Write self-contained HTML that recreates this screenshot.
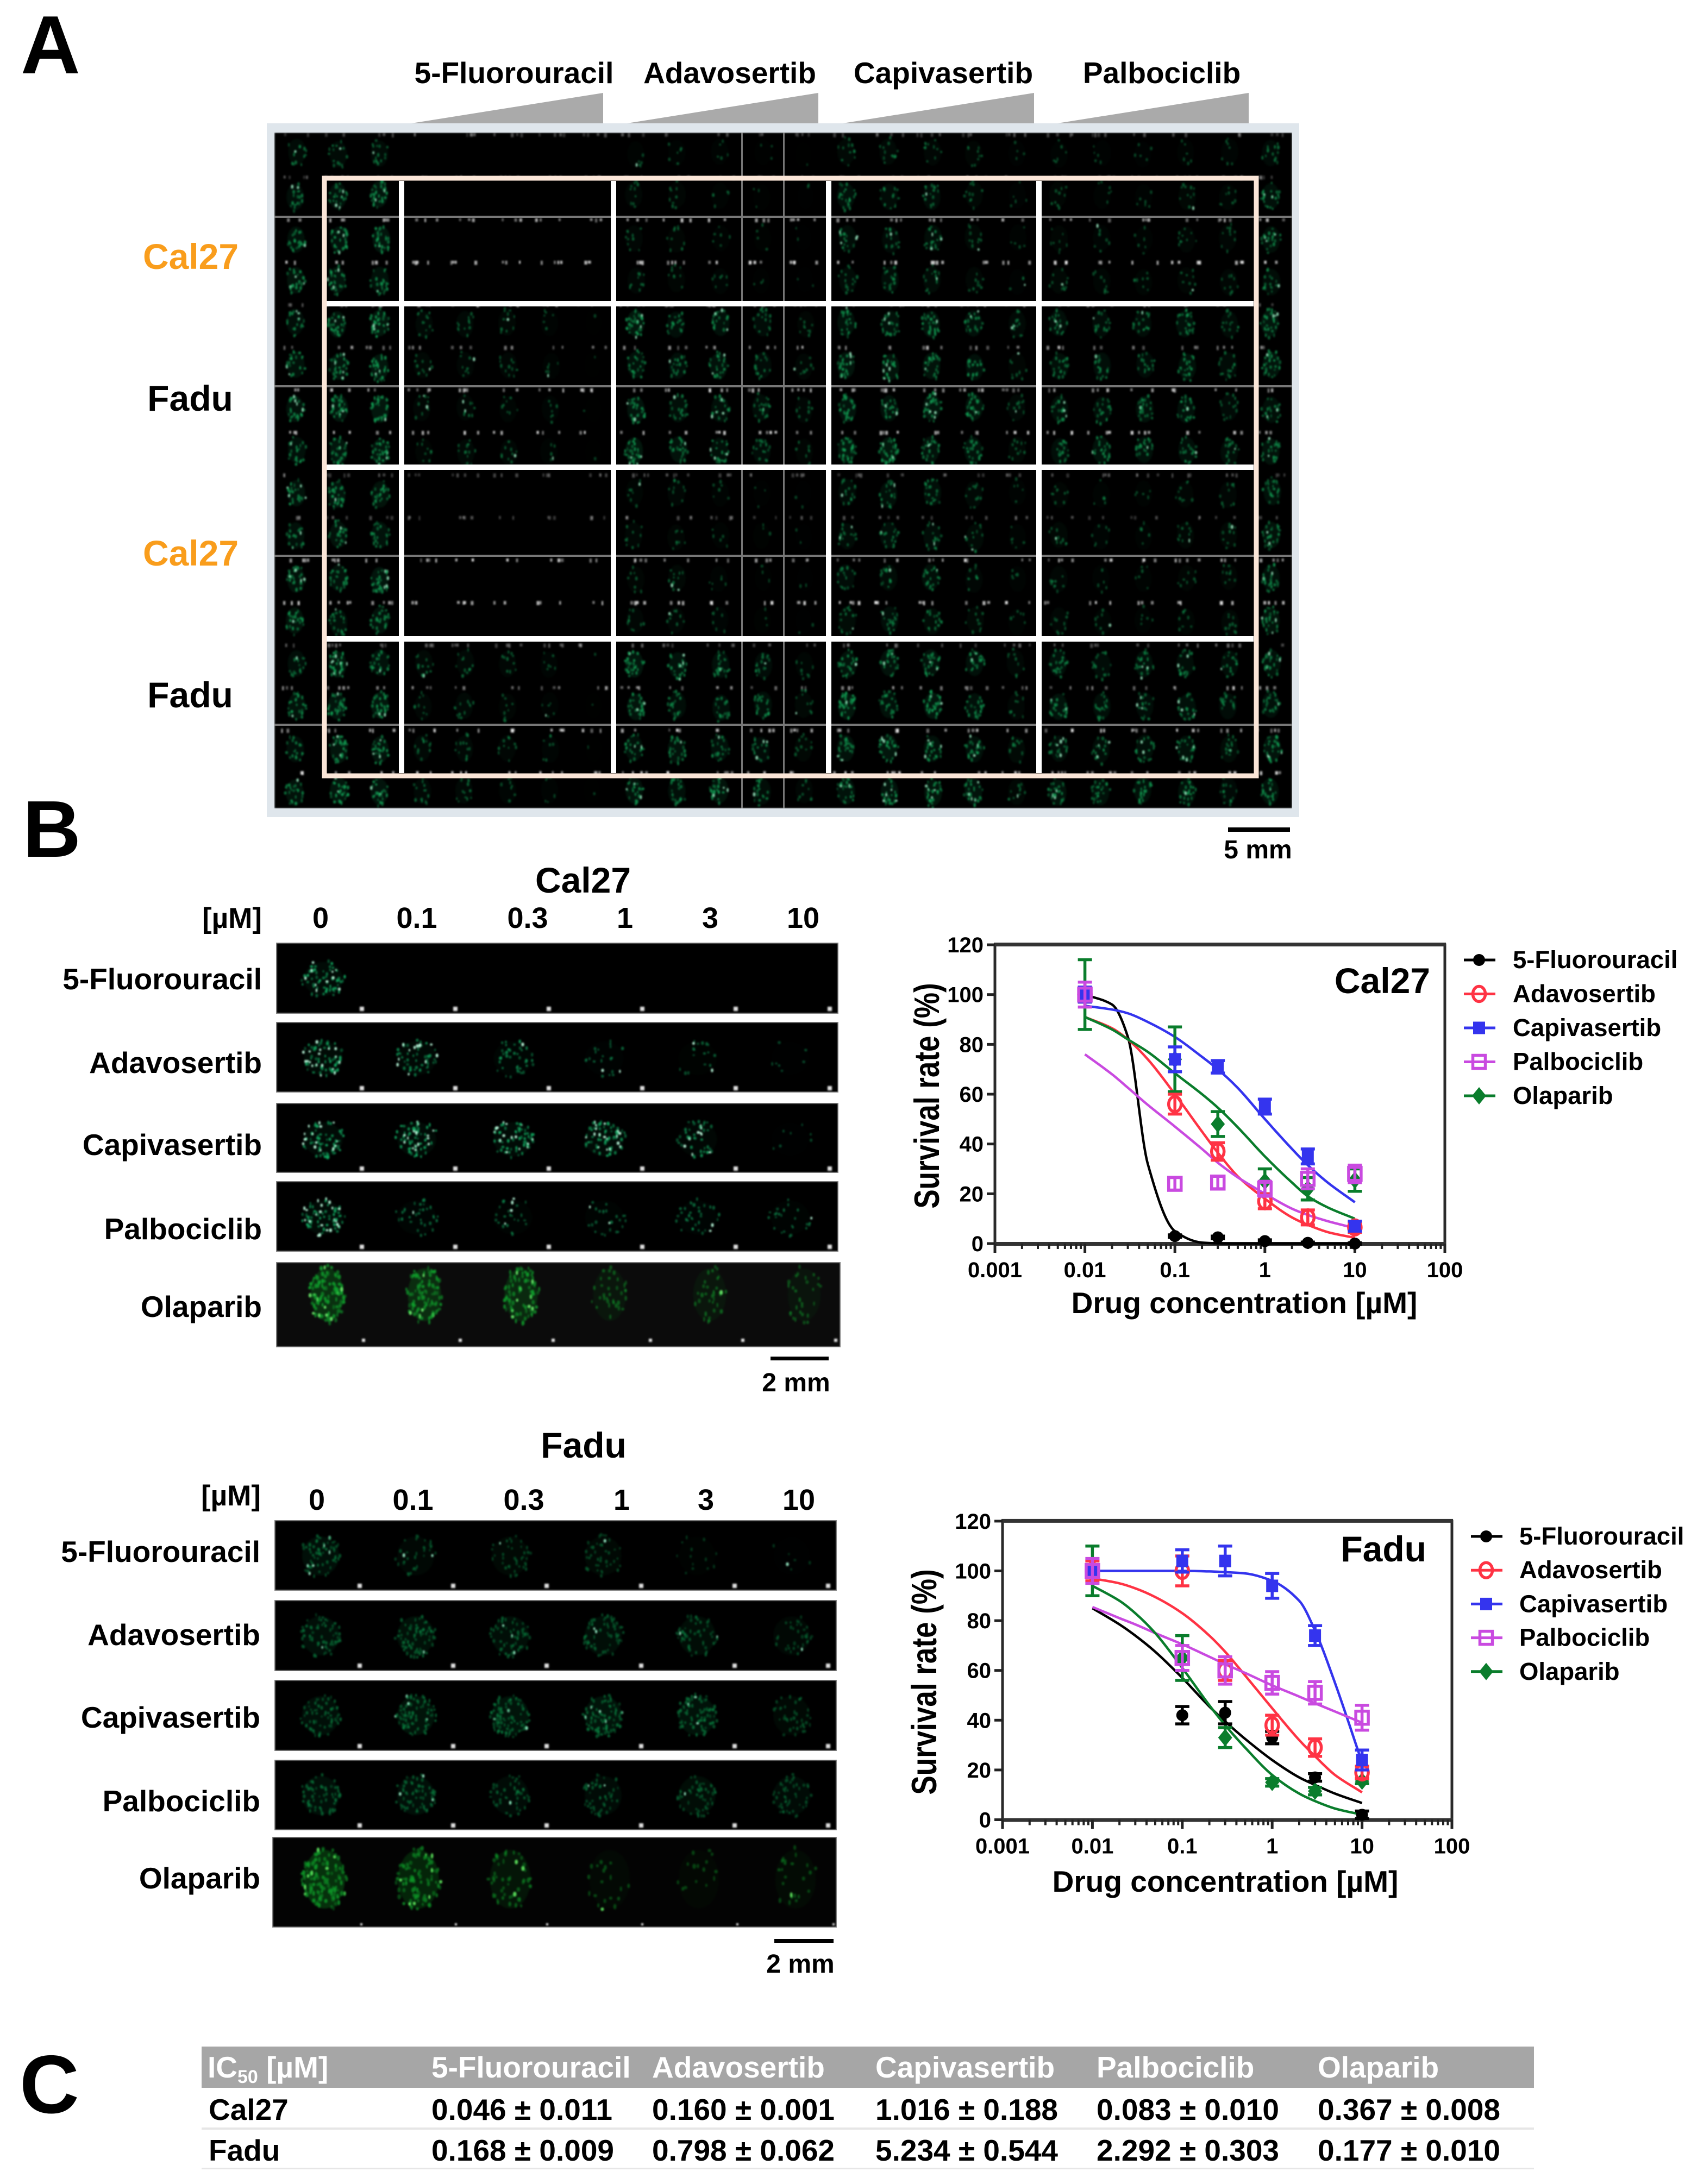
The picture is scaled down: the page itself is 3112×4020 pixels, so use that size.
<!DOCTYPE html>
<html lang="en">
<head>
<meta charset="utf-8">
<title>Drug screening figure</title>
<style>
html,body{margin:0;padding:0;background:#fff;}
#page{position:relative;width:3112px;height:4020px;overflow:hidden;background:#fff;}
canvas{position:absolute;display:block;}
#overlay{position:absolute;left:0;top:0;}
text{font-family:"Liberation Sans",sans-serif;font-weight:bold;fill:#000;}
</style>
</head>
<body>
<div id="page">
  <div style="position:absolute;left:491px;top:227px;width:1900px;height:1277px;background:#dfe6ec"></div>
  <canvas id="plate" width="1873" height="1244" style="left:505px;top:244px"></canvas>

  <canvas id="c0" width="1035" height="131" style="left:508px;top:1735px"></canvas>
  <canvas id="c1" width="1035" height="130" style="left:508px;top:1881px"></canvas>
  <canvas id="c2" width="1035" height="129" style="left:508px;top:2030px"></canvas>
  <canvas id="c3" width="1035" height="130" style="left:508px;top:2174px"></canvas>
  <canvas id="c4" width="1039" height="157" style="left:508px;top:2323px"></canvas>

  <canvas id="f0" width="1035" height="130" style="left:505px;top:2798px"></canvas>
  <canvas id="f1" width="1035" height="131" style="left:505px;top:2945px"></canvas>
  <canvas id="f2" width="1035" height="131" style="left:505px;top:3092px"></canvas>
  <canvas id="f3" width="1035" height="130" style="left:505px;top:3239px"></canvas>
  <canvas id="f4" width="1039" height="167" style="left:501px;top:3381px"></canvas>

  <svg id="overlay" xmlns="http://www.w3.org/2000/svg" width="3112" height="4020" viewBox="0 0 3112 4020">
    <!-- Panel A -->
    <text x="38" y="135" font-size="152">A</text>
    <polygon points="757,227 1110,171 1110,227" fill="#aaaaaa"/>
    <polygon points="1154,227 1506,171 1506,227" fill="#aaaaaa"/>
    <polygon points="1551,227 1903,171 1903,227" fill="#aaaaaa"/>
    <polygon points="1946,227 2298,171 2298,227" fill="#aaaaaa"/>
    <text x="946" y="153" font-size="55" text-anchor="middle">5-Fluorouracil</text>
    <text x="1343" y="153" font-size="55" text-anchor="middle">Adavosertib</text>
    <text x="1736" y="153" font-size="55" text-anchor="middle">Capivasertib</text>
    <text x="2138" y="153" font-size="55" text-anchor="middle">Palbociclib</text>
    <text x="351" y="495" font-size="66" text-anchor="middle" style="fill:#f99d1c">Cal27</text>
    <text x="350" y="756" font-size="66" text-anchor="middle">Fadu</text>
    <text x="351" y="1041" font-size="66" text-anchor="middle" style="fill:#f99d1c">Cal27</text>
    <text x="350" y="1302" font-size="66" text-anchor="middle">Fadu</text>

    <g fill="#777777">
      <rect x="505" y="397" width="1873" height="4"/>
      <rect x="505" y="709" width="1873" height="4"/>
      <rect x="505" y="1021" width="1873" height="4"/>
      <rect x="505" y="1332" width="1873" height="4"/>
      <rect x="1364" y="244" width="3" height="1244"/>
      <rect x="1441" y="244" width="3" height="1244"/>
    </g>
    <g fill="#ffffff">
      <rect x="601" y="554" width="1706" height="10"/>
      <rect x="601" y="855" width="1706" height="10"/>
      <rect x="601" y="1171" width="1706" height="10"/>
      <rect x="734" y="333" width="10" height="1090"/>
      <rect x="1124" y="333" width="10" height="1090"/>
      <rect x="1520" y="333" width="10" height="1090"/>
      <rect x="1907" y="333" width="10" height="1090"/>
    </g>
    <rect x="597" y="328" width="1715" height="1100" fill="none" stroke="#fbe6d8" stroke-width="9"/>
    <rect x="2260" y="1523" width="114" height="8" fill="#000"/>
    <text x="2315" y="1580" font-size="48" text-anchor="middle">5 mm</text>

    <!-- Panel B -->
    <text x="42" y="1577" font-size="148">B</text>
    <text x="1073" y="1643" font-size="66" text-anchor="middle">Cal27</text>
    <text x="482" y="1708" font-size="53" text-anchor="end">[µM]</text>
    <text x="590" y="1708" font-size="54" text-anchor="middle">0</text>
    <text x="767" y="1708" font-size="54" text-anchor="middle">0.1</text>
    <text x="971" y="1708" font-size="54" text-anchor="middle">0.3</text>
    <text x="1150" y="1708" font-size="54" text-anchor="middle">1</text>
    <text x="1307" y="1708" font-size="54" text-anchor="middle">3</text>
    <text x="1478" y="1708" font-size="54" text-anchor="middle">10</text>
    <text x="482" y="1821" font-size="55" text-anchor="end">5-Fluorouracil</text>
    <text x="482" y="1975" font-size="55" text-anchor="end">Adavosertib</text>
    <text x="482" y="2126" font-size="55" text-anchor="end">Capivasertib</text>
    <text x="482" y="2281" font-size="55" text-anchor="end">Palbociclib</text>
    <text x="482" y="2424" font-size="55" text-anchor="end">Olaparib</text>
    <rect x="1418" y="2497" width="107" height="7" fill="#000"/>
    <text x="1465" y="2561" font-size="48" text-anchor="middle">2 mm</text>

    <text x="1074" y="2683" font-size="66" text-anchor="middle">Fadu</text>
    <text x="480" y="2771" font-size="53" text-anchor="end">[µM]</text>
    <text x="583" y="2779" font-size="54" text-anchor="middle">0</text>
    <text x="760" y="2779" font-size="54" text-anchor="middle">0.1</text>
    <text x="964" y="2779" font-size="54" text-anchor="middle">0.3</text>
    <text x="1144" y="2779" font-size="54" text-anchor="middle">1</text>
    <text x="1299" y="2779" font-size="54" text-anchor="middle">3</text>
    <text x="1470" y="2779" font-size="54" text-anchor="middle">10</text>
    <text x="479" y="2875" font-size="55" text-anchor="end">5-Fluorouracil</text>
    <text x="479" y="3028" font-size="55" text-anchor="end">Adavosertib</text>
    <text x="479" y="3180" font-size="55" text-anchor="end">Capivasertib</text>
    <text x="479" y="3334" font-size="55" text-anchor="end">Palbociclib</text>
    <text x="479" y="3476" font-size="55" text-anchor="end">Olaparib</text>
    <rect x="1425" y="3569" width="109" height="7" fill="#000"/>
    <text x="1473" y="3631" font-size="48" text-anchor="middle">2 mm</text>

    <g id="chart-cal27"></g>
    <g id="chart-fadu"></g>

    <!-- Panel C -->
    <text x="36" y="3889" font-size="152">C</text>
    <g>
      <rect x="371" y="3767" width="2452" height="76" fill="#a6a6a6"/>
      <rect x="371" y="3916" width="2452" height="4" fill="#e6e6e6"/>
      <rect x="371" y="3990" width="2452" height="3" fill="#e6e6e6"/>
      <text x="382" y="3824" font-size="55" style="fill:#fff">IC<tspan font-size="34" dy="10">50</tspan><tspan dy="-10"> [µM]</tspan></text>
      <text x="794" y="3824" font-size="55" style="fill:#fff">5-Fluorouracil</text>
      <text x="1200" y="3824" font-size="55" style="fill:#fff">Adavosertib</text>
      <text x="1611" y="3824" font-size="55" style="fill:#fff">Capivasertib</text>
      <text x="2018" y="3824" font-size="55" style="fill:#fff">Palbociclib</text>
      <text x="2425" y="3824" font-size="55" style="fill:#fff">Olaparib</text>
      <text x="384" y="3902" font-size="55">Cal27</text>
      <text x="794" y="3902" font-size="55">0.046 ± 0.011</text>
      <text x="1200" y="3902" font-size="55">0.160 ± 0.001</text>
      <text x="1611" y="3902" font-size="55">1.016 ± 0.188</text>
      <text x="2018" y="3902" font-size="55">0.083 ± 0.010</text>
      <text x="2425" y="3902" font-size="55">0.367 ± 0.008</text>
      <text x="384" y="3977" font-size="55">Fadu</text>
      <text x="794" y="3977" font-size="55">0.168 ± 0.009</text>
      <text x="1200" y="3977" font-size="55">0.798 ± 0.062</text>
      <text x="1611" y="3977" font-size="55">5.234 ± 0.544</text>
      <text x="2018" y="3977" font-size="55">2.292 ± 0.303</text>
      <text x="2425" y="3977" font-size="55">0.177 ± 0.010</text>
    </g>
  </svg>
</div>

<script>
// ---------- Chart data ----------
const xTickValues = [0.001, 0.01, 0.1, 1, 10, 100];
const xTickLabels = ['0.001', '0.01', '0.1', '1', '10', '100'];
const yTickValues = [0, 20, 40, 60, 80, 100, 120];
const yTickLabels = ['0', '20', '40', '60', '80', '100', '120'];
const seriesNames = ['5-Fluorouracil', 'Adavosertib', 'Capivasertib', 'Palbociclib', 'Olaparib'];
const pointConc = [0.01, 0.1, 0.3, 1, 3, 10];
const curveConc = [0.01, 0.02, 0.03, 0.05, 0.1, 0.2, 0.3, 0.5, 1, 2, 3, 5, 10];

const cal27FluPoints = [100, 3, 2.5, 1, 0.3, 0];
const cal27FluErr = [1, 0.5, 0.5, 0.5, 0.3, 0.3];
const cal27FluCurve = [100, 96, 83, 32, 5, 0.4, 0.1, 0, 0, 0, 0, 0, 0];
const cal27AdaPoints = [100, 56, 37, 17, 10.5, 6.5];
const cal27AdaErr = [3, 4, 3.5, 3, 3, 2];
const cal27AdaCurve = [91, 86.5, 82, 74, 60, 45, 36.5, 27, 18, 10.5, 7.5, 4.6, 2.3];
const cal27CapPoints = [100, 74, 71, 55, 35, 7];
const cal27CapErr = [3, 5, 2.5, 3, 3, 2];
const cal27CapCurve = [95.5, 94, 92.5, 89, 83, 75, 70, 62.5, 50, 38, 31.5, 24.5, 16.6];
const cal27PalPoints = [100, 24, 24.5, 22, 26, 28];
const cal27PalErr = [5, 2.5, 2.5, 3, 4, 3.5];
const cal27PalCurve = [76, 68, 62.6, 55.7, 47, 38, 32.5, 26.6, 20, 14, 11.5, 9, 6.2];
const cal27OlaPoints = [100, 74, 48, 25, 22, 25.5];
const cal27OlaErr = [14, 13, 5, 5, 4.5, 4.5];
const cal27OlaCurve = [91, 86, 82, 77, 68.4, 60, 54.6, 46.7, 35, 24.5, 19, 14.5, 10];

const faduFluPoints = [100, 42, 43, 33, 17, 2];
const faduFluErr = [2, 3.5, 4.5, 2.5, 1.5, 1.5];
const faduFluCurve = [85, 78.5, 74, 67.5, 57, 45.5, 39.5, 32.5, 24, 17, 14, 10.5, 6.7];
const faduAdaPoints = [100, 100, 60, 38, 29, 19];
const faduAdaErr = [4, 6, 4, 4, 3.5, 2.5];
const faduAdaCurve = [97, 95, 93, 89.5, 83, 74, 67.5, 58, 44.8, 32, 25.5, 18, 11];
const faduCapPoints = [100, 104, 104, 94, 74, 24];
const faduCapErr = [2, 4.5, 6, 5, 4, 4];
const faduCapCurve = [100, 100, 100, 100, 100, 99.8, 99.5, 99, 96, 88, 76, 55, 23];
const faduPalPoints = [100, 65, 60, 55, 51, 41];
const faduPalErr = [5, 5, 5.5, 4.5, 4.5, 5];
const faduPalCurve = [85.5, 81, 78.5, 75, 70.5, 65.5, 62.5, 59, 54, 49.5, 46.8, 43.5, 39];
const faduOlaPoints = [100, 65, 33, 15, 11.5, 15.5];
const faduOlaErr = [10, 9, 4, 1.5, 1.5, 1];
const faduOlaCurve = [94, 88, 83, 75, 61, 46, 38, 29, 18, 10.5, 7.5, 4.5, 2];

// ---------- Micrograph brightness ----------
const plateCal27Row = [.7,.8,.8,0,0,0,0,0,.3,.3,.2,.1,.06,.6,.55,.55,.35,.15,.3,.2,.2,.3,.3,.7];
const plateFaduRow = [.7,.95,.95,.35,.35,.3,.2,.03,.9,.7,.7,.6,.3,.9,.85,.85,.8,.35,.65,.65,.65,.65,.5,.8];
const plateRowKinds = ['c','c','c','c','f','f','f','f','c','c','c','c','f','f','f','f'];
const cal27Strips = [[1,0,0,0,0,0],[1,.8,.6,.3,.25,.1],[1,1,1,1,.7,.1],[1,.45,.35,.35,.5,.35],[1,.9,.8,.3,.3,.25]];
const faduStrips = [[.6,.3,.35,.35,.12,.05],[.6,.65,.55,.55,.5,.3],[.6,.75,.8,.8,.7,.35],[.6,.6,.45,.45,.5,.45],[1,.75,.4,.15,.12,.18]];

// ---------- Layout ----------
const SVGNS = 'http://www.w3.org/2000/svg';
const seriesColors = ['#000000', '#ff3344', '#3434ee', '#c94ae0', '#0a7d2c'];
const seriesMarkers = ['circle', 'ring', 'square', 'box', 'diamond'];

function mk(tag, parent, attrs, txt) {
  const e = document.createElementNS(SVGNS, tag);
  for (const k in attrs) e.setAttribute(k, attrs[k]);
  if (txt !== undefined) e.textContent = txt;
  parent.appendChild(e);
  return e;
}

function curvePath(px, py) {
  const n = px.length, d = [], m = [];
  for (let i = 0; i < n - 1; i++) d.push((py[i + 1] - py[i]) / (px[i + 1] - px[i]));
  m.push(d[0]);
  for (let i = 1; i < n - 1; i++) m.push(d[i - 1] * d[i] <= 0 ? 0 : 2 * d[i - 1] * d[i] / (d[i - 1] + d[i]));
  m.push(d[n - 2]);
  let s = 'M' + px[0].toFixed(1) + ' ' + py[0].toFixed(1);
  for (let i = 0; i < n - 1; i++) {
    const h = (px[i + 1] - px[i]) / 3;
    s += 'C' + (px[i] + h).toFixed(1) + ' ' + (py[i] + m[i] * h).toFixed(1) + ' ' +
      (px[i + 1] - h).toFixed(1) + ' ' + (py[i + 1] - m[i + 1] * h).toFixed(1) + ' ' +
      px[i + 1].toFixed(1) + ' ' + py[i + 1].toFixed(1);
  }
  return s;
}

function drawMarker(parent, kind, cx, cy, color) {
  let m;
  if (kind === 'circle') m = mk('ellipse', parent, {cx: cx, cy: cy, rx: 11, ry: 11, fill: color});
  if (kind === 'ring') m = mk('ellipse', parent, {cx: cx, cy: cy, rx: 11.5, ry: 14, fill: 'none', stroke: color, 'stroke-width': 5.5});
  if (kind === 'square') m = mk('rect', parent, {x: cx - 11, y: cy - 11.5, width: 22, height: 23, fill: color});
  if (kind === 'box') m = mk('rect', parent, {x: cx - 11.5, y: cy - 12, width: 23, height: 24, fill: 'none', stroke: color, 'stroke-width': 5.5});
  if (kind === 'diamond') m = mk('polygon', parent, {points: (cx) + ',' + (cy - 16) + ' ' + (cx + 13) + ',' + cy + ' ' + (cx) + ',' + (cy + 16) + ' ' + (cx - 13) + ',' + cy, fill: color});
  
  
}

function renderChart(root, L, title, series) {
  const xPos = c => L.x0 + (Math.log10(c) + 3) * L.decade;
  const yPos = v => L.y0 - v * L.unit;

  const frame = mk('rect', root, {x: L.x0, y: yPos(120), width: 5 * L.decade, height: 120 * L.unit, fill: 'none', stroke: '#2a2a2a', 'stroke-width': 5});
  
  
  const topAxis = mk('rect', root, {x: L.x0 - 2, y: yPos(120) - 4, width: 5 * L.decade + 4, height: 7, fill: '#333'});
  
  
  const xAxis = mk('rect', root, {x: L.x0 - 2, y: L.y0 - 3, width: 5 * L.decade + 4, height: 7, fill: '#333'});
  
  

  yTickValues.forEach((v, i) => {
    const t = mk('line', root, {x1: L.x0 - 15, x2: L.x0, y1: yPos(v), y2: yPos(v), stroke: '#222', 'stroke-width': 5});
    
    
    const lab = mk('text', root, {x: L.x0 - 21, y: yPos(v) + 14, 'font-size': 40, 'text-anchor': 'end'}, yTickLabels[i]);
    
    
  });
  xTickValues.forEach((v, i) => {
    const t = mk('line', root, {x1: xPos(v), x2: xPos(v), y1: L.y0, y2: L.y0 + 17, stroke: '#222', 'stroke-width': 5});
    
    
    const lab = mk('text', root, {x: xPos(v), y: L.y0 + 62, 'font-size': 40, 'text-anchor': 'middle'}, xTickLabels[i]);
    
    
    if (i < xTickValues.length - 1) {
      for (let k = 2; k < 10; k++) {
        const mt = mk('line', root, {x1: xPos(v * k), x2: xPos(v * k), y1: L.y0, y2: L.y0 + 10, stroke: '#222', 'stroke-width': 4});
        
        
      }
    }
  });

  const yt = mk('text', root, {x: 0, y: 0, 'font-size': 53, 'text-anchor': 'middle', transform: 'translate(' + L.yTitleX + ' ' + L.yTitleY + ') rotate(-90) scale(1 1.22)'}, 'Survival rate (%)');
  
  
  const xt = mk('text', root, {x: L.xTitleX, y: L.xTitleY, 'font-size': 55, 'text-anchor': 'middle'}, 'Drug concentration [µM]');
  
  
  const ct = mk('text', root, {x: L.titleX, y: L.titleY, 'font-size': 66, 'text-anchor': 'end'}, title);
  
  

  // Curves
  series.forEach((s, i) => {
    const p = mk('path', root, {d: curvePath(curveConc.map(xPos), s.curve.map(yPos)), fill: 'none', stroke: seriesColors[i], 'stroke-width': 4.5});
    
    
  });

  // Points with error bars; olaparib first so the others sit over it
  [4, 0, 1, 2, 3].forEach(i => {
    const s = series[i];
    s.points.forEach((v, j) => {
      const cx = xPos(pointConc[j]);
      const top = yPos(v + s.err[j]);
      const bottom = yPos(v - s.err[j]);
      const bar = mk('path', root, {d: 'M' + (cx - 13) + ' ' + top + 'H' + (cx + 13) + 'M' + cx + ' ' + top + 'V' + bottom + 'M' + (cx - 13) + ' ' + bottom + 'H' + (cx + 13), fill: 'none', stroke: seriesColors[i], 'stroke-width': 5.5});
      
      
      drawMarker(root, seriesMarkers[i], cx, yPos(v), seriesColors[i]);
    });
  });

  // Legend
  seriesNames.forEach((name, i) => {
    const ly = L.legendY + i * L.legendStep;
    const ln = mk('line', root, {x1: L.legendX, x2: L.legendX + 58, y1: ly, y2: ly, stroke: seriesColors[i], 'stroke-width': 5});
    
    
    drawMarker(root, seriesMarkers[i], L.legendX + 28, ly, seriesColors[i]);
    const lt = mk('text', root, {x: L.legendTextX, y: ly + 15, 'font-size': 45.5}, name);
    
    
  });
}

renderChart(document.getElementById('chart-cal27'),
  {x0: 1831, decade: 165.6, y0: 2289, unit: 4.583, yTitleX: 1728, yTitleY: 2017, xTitleX: 2290, xTitleY: 2417,
   titleX: 2632, titleY: 1828, legendX: 2694, legendY: 1767, legendStep: 62.5, legendTextX: 2784},
  'Cal27',
  [{points: cal27FluPoints, err: cal27FluErr, curve: cal27FluCurve},
   {points: cal27AdaPoints, err: cal27AdaErr, curve: cal27AdaCurve},
   {points: cal27CapPoints, err: cal27CapErr, curve: cal27CapCurve},
   {points: cal27PalPoints, err: cal27PalErr, curve: cal27PalCurve},
   {points: cal27OlaPoints, err: cal27OlaErr, curve: cal27OlaCurve}]);

renderChart(document.getElementById('chart-fadu'),
  {x0: 1845, decade: 165.4, y0: 3349.5, unit: 4.58, yTitleX: 1723, yTitleY: 3096, xTitleX: 2255, xTitleY: 3482,
   titleX: 2625, titleY: 2874, legendX: 2707, legendY: 2828, legendStep: 62.2, legendTextX: 2796},
  'Fadu',
  [{points: faduFluPoints, err: faduFluErr, curve: faduFluCurve},
   {points: faduAdaPoints, err: faduAdaErr, curve: faduAdaCurve},
   {points: faduCapPoints, err: faduCapErr, curve: faduCapCurve},
   {points: faduPalPoints, err: faduPalErr, curve: faduPalCurve},
   {points: faduOlaPoints, err: faduOlaErr, curve: faduOlaCurve}]);

// ---------- Micrographs (speckle texture only, seeded so every render is identical) ----------
function seeded(a) {
  return function () {
    a |= 0; a = a + 0x6D2B79F5 | 0;
    let t = Math.imul(a ^ a >>> 15, 1 | a);
    t = t + Math.imul(t ^ t >>> 7, 61 | t) ^ t;
    return ((t ^ t >>> 14) >>> 0) / 4294967296;
  };
}

function spheroid(ctx, rnd, cx, cy, rx, ry, level, opt) {
  if (level <= 0) return;
  ctx.fillStyle = 'rgba(' + opt.haze + ',' + (opt.hazeA * level) + ')';
  ctx.beginPath();
  ctx.ellipse(cx, cy, rx * .9, ry * .9, 0, 0, Math.PI * 2);
  ctx.fill();
  const n = Math.round(opt.count * level);
  for (let i = 0; i < n; i++) {
    const a = rnd() * Math.PI * 2, r = Math.sqrt(rnd());
    const x = cx + Math.cos(a) * r * rx, y = cy + Math.sin(a) * r * ry;
    const bright = rnd() < opt.bright * level;
    ctx.fillStyle = bright ? opt.hiColor : 'rgba(' + opt.dot + ',' + (.4 + .5 * level * rnd()) + ')';
    ctx.beginPath();
    ctx.ellipse(x, y, opt.dotRx * (.7 + .6 * rnd()), opt.dotRy * (.7 + .6 * rnd()), 0, 0, Math.PI * 2);
    ctx.fill();
  }
}

// Paint on an offscreen buffer, then blur once when copying to the visible canvas.
function softCopy(target, buffer, radius) {
  const t = target.getContext('2d');
  t.filter = 'blur(' + radius + 'px)';
  t.drawImage(buffer, 0, 0);
  t.filter = 'none';
}

function makeBuffer(w, h) {
  const b = document.createElement('canvas');
  b.width = w;
  b.height = h;
  return b;
}

(function paintPlate() {
  const cv = document.getElementById('plate');
  const buf = makeBuffer(cv.width, cv.height);
  const ctx = buf.getContext('2d');
  const rnd = seeded(384);
  ctx.fillStyle = '#000';
  ctx.fillRect(0, 0, buf.width, buf.height);
  ctx.translate(-505, -244);
  const opt = {haze: '8,95,52', hazeA: .24, count: 32, bright: .1, hiColor: 'rgba(150,230,190,.85)', dot: '18,160,85', dotRx: 2, dotRy: 3};
  const markLevel = [.4, .4, .8, .95, .5, .65, .8, .95];
  for (let r = 0; r < 16; r++) {
    const vals = plateRowKinds[r] === 'c' ? plateCal27Row : plateFaduRow;
    const rowDim = r === 0 ? .75 : 1;
    const cy = 282 + 78.3 * r;
    for (let c = 0; c < 24; c++) {
      const cx = 544 + 78.05 * c;
      const lv = Math.min(1, vals[c] * (.8 + .4 * rnd()) * rowDim);
      spheroid(ctx, rnd, cx + (rnd() - .5) * 5, cy + (rnd() - .5) * 6, 18, 27, lv, opt);
      const my = 248 + 78.3 * r;
      const ml = markLevel[r % 8];
      const k = 2 + Math.floor(rnd() * 3);
      for (let m = 0; m < k; m++) {
        ctx.fillStyle = 'rgba(255,255,255,' + (ml * (.45 + .4 * rnd())) + ')';
        ctx.fillRect(cx - 28 + rnd() * 52, my - 3, 3 + rnd() * 2.5, 5 + rnd() * 3);
      }
    }
  }
  softCopy(cv, buf, 1.4);
})();

function paintStrip(id, left, top, values, xs, cy, rx, ry, markX, markY, markSize, opt, seed) {
  const cv = document.getElementById(id);
  const buf = makeBuffer(cv.width, cv.height);
  const ctx = buf.getContext('2d');
  const rnd = seeded(seed);
  ctx.fillStyle = opt.bg;
  ctx.fillRect(0, 0, buf.width, buf.height);
  ctx.translate(-left, -top);
  xs.forEach((x, i) => spheroid(ctx, rnd, x, cy, rx, ry, values[i], opt));
  ctx.fillStyle = '#e0e0e0';
  markX.forEach(x => ctx.fillRect(x - markSize / 2, markY - markSize / 2, markSize, markSize));
  softCopy(cv, buf, 1.4);
  const out = cv.getContext('2d');
  out.strokeStyle = '#8a8a8a';
  out.lineWidth = 3;
  out.strokeRect(0, 0, cv.width, cv.height);
}

const cal27Opt = {bg: '#000', haze: '6,75,42', hazeA: .14, count: 70, bright: .2, hiColor: 'rgba(190,255,225,.9)', dot: '18,175,100', dotRx: 2.2, dotRy: 2.8};
const faduOpt = {bg: '#000', haze: '6,85,42', hazeA: .3, count: 110, bright: .07, hiColor: 'rgba(160,250,210,.85)', dot: '10,130,66', dotRx: 2.1, dotRy: 3};
const cal27OlaOpt = {bg: '#0b0b0b', haze: '10,105,25', hazeA: .4, count: 110, bright: .1, hiColor: 'rgba(110,245,110,.85)', dot: '16,160,45', dotRx: 2.4, dotRy: 3.6};
const faduOlaOpt = {bg: '#030303', haze: '10,105,25', hazeA: .45, count: 125, bright: .07, hiColor: 'rgba(100,245,100,.85)', dot: '14,150,40', dotRx: 2.6, dotRy: 3.8};

const cal27X = [595, 767, 944, 1112, 1284, 1454];
const cal27Mark = [666, 838, 1010, 1182, 1354, 1527];
const cal27Top = [1735, 1881, 2030, 2174];
const cal27Cy = [1802, 1948, 2097, 2241];
const cal27MarkY = [1857, 2003, 2151, 2295];
cal27Top.forEach((t, i) => paintStrip('c' + i, 508, t, cal27Strips[i], cal27X, cal27Cy[i], 40, 35, cal27Mark, cal27MarkY[i], 8, cal27Opt, 100 + i));
paintStrip('c4', 508, 2323, cal27Strips[4], [602, 781, 959, 1122, 1306, 1480], 2383, 34, 54, [669, 847, 1018, 1197, 1367, 1538], 2467, 6, cal27OlaOpt, 200);

const faduX = [590, 765, 939, 1110, 1283, 1457];
const faduMark = [662, 834, 1006, 1180, 1352, 1524];
const faduTop = [2798, 2945, 3092, 3239];
const faduCy = [2864, 3011, 3158, 3305];
const faduMarkY = [2919, 3066, 3214, 3360];
faduTop.forEach((t, i) => paintStrip('f' + i, 505, t, faduStrips[i], faduX, faduCy[i], 38, 40, faduMark, faduMarkY[i], 8, faduOpt, 300 + i));
paintStrip('f4', 501, 3381, faduStrips[4], [597, 770, 939, 1122, 1286, 1464], 3459, 42, 60, [665, 839, 1007, 1182, 1357, 1534], 3542, 4, faduOlaOpt, 400);
</script>
</body>
</html>
